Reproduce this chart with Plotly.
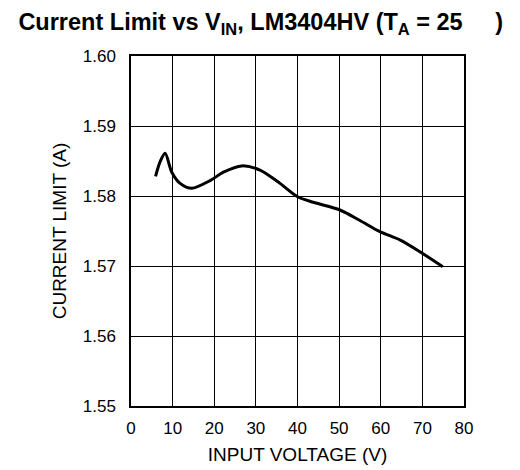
import plotly.graph_objects as go

vin = [5.9, 7.0, 8.2, 9.8, 11.8, 14.6, 19.0, 22.2, 26.6, 31.0, 35.8, 40.0, 43.8, 50.2, 55.0, 59.8, 64.7, 69.5, 74.9]
ilim = [1.5828, 1.5849, 1.5861, 1.5834, 1.5818, 1.5811, 1.5822, 1.5834, 1.5843, 1.5837, 1.5818, 1.5799, 1.5791, 1.5780, 1.5765, 1.5749, 1.5737, 1.5720, 1.5699]

x_ticks = [0, 10, 20, 30, 40, 50, 60, 70, 80]
y_ticks = [1.55, 1.56, 1.57, 1.58, 1.59, 1.60]
y_labels = ["1.55", "1.56", "1.57", "1.58", "1.59", "1.60"]

fig = go.Figure()
fig.add_trace(go.Scatter(x=vin, y=ilim, mode="lines",
                         line=dict(color="black", width=3, shape="spline", smoothing=0.8),
                         showlegend=False))

font = "Liberation Sans, Arial, sans-serif"
nb = "\u00a0" * 5
fig.update_layout(
    width=520, height=470,
    margin=dict(l=123, r=64, t=48, b=72),
    plot_bgcolor="white", paper_bgcolor="white",
    font=dict(family=font, size=17, color="black"),
    title=dict(text="<b>Current Limit vs V<sub>IN</sub>, LM3404HV (T<sub>A</sub> = 25" + nb + ")</b>",
               x=0.02, xanchor="left", y=0.971, yanchor="middle",
               font=dict(size=23.5, family=font, color="black")),
    xaxis=dict(range=[0, 80], tickvals=x_ticks, ticks="", showgrid=True, gridcolor="black", gridwidth=1,
               showline=True, linecolor="black", linewidth=1.5, mirror=True, zeroline=False,
               ticklabelstandoff=6,
               title=dict(text="INPUT VOLTAGE (V)", standoff=11, font=dict(size=19)),
               tickfont=dict(size=17)),
    yaxis=dict(range=[1.55, 1.60], tickvals=y_ticks, ticktext=y_labels, ticks="", showgrid=True,
               gridcolor="black", gridwidth=1, showline=True, linecolor="black", linewidth=1.5,
               mirror=True, zeroline=False, ticklabelstandoff=10,
               title=dict(text="CURRENT LIMIT (A)", standoff=11, font=dict(size=19)),
               tickfont=dict(size=17)),
)
fig.write_html("out.html")
